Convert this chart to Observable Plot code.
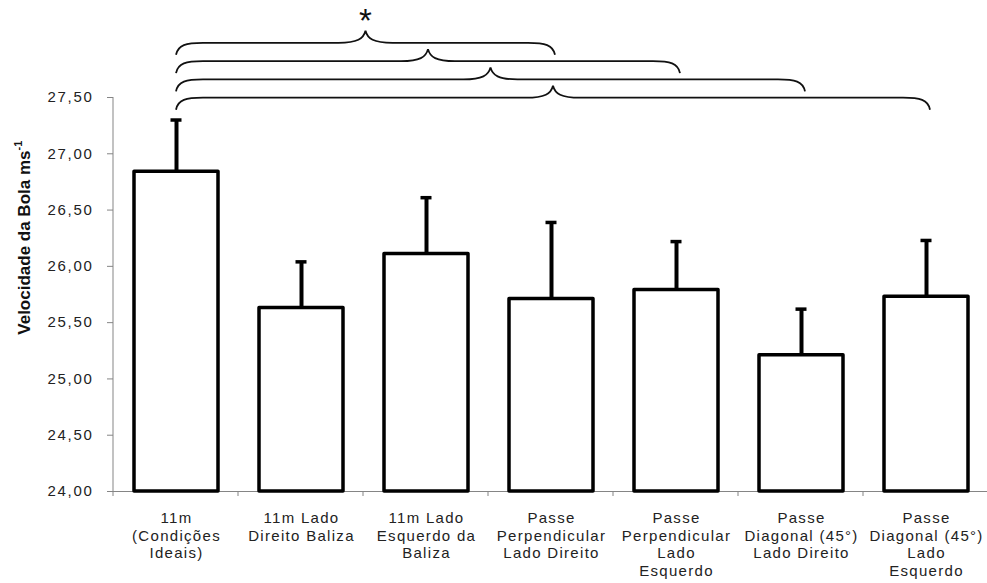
<!DOCTYPE html>
<html><head><meta charset="utf-8">
<script src="https://cdn.jsdelivr.net/npm/d3@7"></script>
<script src="https://cdn.jsdelivr.net/npm/@observablehq/plot@0.6"></script>
<style>
body{margin:0;background:#fff;}
svg{display:block;}
g[aria-label="y-axis tick label"] text{letter-spacing:1.7px;}
g[aria-label="x-axis tick label"] text{letter-spacing:1.3px;}
</style>
</head><body><div id="chart"></div>
<script>
// ---- data ----
const categories = [
  "11m\n(Condições\nIdeais)",
  "11m Lado\nDireito Baliza",
  "11m Lado\nEsquerdo da\nBaliza",
  "Passe\nPerpendicular\nLado Direito",
  "Passe\nPerpendicular\nLado\nEsquerdo",
  "Passe\nDiagonal (45°)\nLado Direito",
  "Passe\nDiagonal (45°)\nLado\nEsquerdo"
];
const means = [26.84, 25.63, 26.11, 25.71, 25.79, 25.21, 25.73];
const sds   = [0.46, 0.41, 0.50, 0.68, 0.43, 0.41, 0.50];
const yTicks = [24, 24.5, 25, 25.5, 26, 26.5, 27, 27.5];
const comparisons = [[0, 3], [0, 4], [0, 5], [0, 6]]; // significant pairs (category indices)
const significanceMark = "*";
const yLabelMain = "Velocidade da Bola ms";
const yLabelSup = "-1";

const data = categories.map((c, i) => ({cat: c, mean: means[i], top: means[i] + sds[i]}));
const fmt = d => d3.format(".2f")(d).replace(".", ",");
const axisGray = "#858585";

function annotations(index, scales, values, dims) {
  const x = scales.x, y = scales.y;
  const bw = typeof x.bandwidth === "function" ? x.bandwidth() : (x.bandwidth || 0);
  const step = typeof x.step === "function" ? x.step() : bw;
  const cx = i => x(categories[i]) + bw / 2;
  const ns = "http://www.w3.org/2000/svg";
  const g = document.createElementNS(ns, "g");
  const y0 = y(24), yT = y(27.5);
  const left = dims.marginLeft;
  // y-axis line and x-axis ticks
  const p = d3.path();
  p.moveTo(left, yT); p.lineTo(left, y0 + 5);
  for (let i = 1; i <= categories.length; i++) {
    const bx = left + i * step;
    p.moveTo(bx, y0); p.lineTo(bx, y0 + 5);
  }
  const axisPath = document.createElementNS(ns, "path");
  axisPath.setAttribute("d", p.toString());
  axisPath.setAttribute("stroke", axisGray);
  axisPath.setAttribute("fill", "none");
  g.appendChild(axisPath);
  // braces
  const h = 12, r = 27, gap = 18.3;
  comparisons.forEach(([a, b], k) => {
    const yl = yT + 0.7 - (comparisons.length - 1 - k) * gap;
    const x0 = cx(a), x1 = cx(b) + 4, xm = (x0 + x1) / 2;
    const q = d3.path();
    q.moveTo(x0, yl + h);
    q.bezierCurveTo(x0 + 2, yl + 2, x0 + 10, yl, x0 + r, yl);
    q.lineTo(xm - r, yl);
    q.bezierCurveTo(xm - 8, yl, xm - 2, yl - 4, xm, yl - h);
    q.bezierCurveTo(xm + 2, yl - 4, xm + 8, yl, xm + r, yl);
    q.lineTo(x1 - r, yl);
    q.bezierCurveTo(x1 - 10, yl, x1 - 2, yl + 2, x1, yl + h);
    const path = document.createElementNS(ns, "path");
    path.setAttribute("d", q.toString());
    path.setAttribute("fill", "none");
    path.setAttribute("stroke", "#111");
    path.setAttribute("stroke-width", "1.8");
    g.appendChild(path);
    if (k === 0) {
      const t = document.createElementNS(ns, "text");
      t.setAttribute("x", xm);
      t.setAttribute("y", yl - h + 1.5);
      t.setAttribute("text-anchor", "middle");
      t.setAttribute("font-family", "Liberation Sans, Arial, sans-serif");
      t.setAttribute("font-size", "33");
      t.setAttribute("fill", "#111");
      t.textContent = significanceMark;
      g.appendChild(t);
    }
  });
  // y label
  const lab = document.createElementNS(ns, "text");
  lab.setAttribute("transform", `translate(30,${(y(26.25))}) rotate(-90)`);
  lab.setAttribute("text-anchor", "middle");
  lab.setAttribute("font-family", "Liberation Sans, Arial, sans-serif");
  lab.setAttribute("font-weight", "bold");
  lab.setAttribute("font-size", "17");
  lab.setAttribute("fill", "#111");
  const t1 = document.createElementNS(ns, "tspan");
  t1.textContent = yLabelMain;
  const t2 = document.createElementNS(ns, "tspan");
  t2.setAttribute("dy", "-8");
  t2.setAttribute("font-size", "11");
  t2.textContent = yLabelSup;
  lab.appendChild(t1); lab.appendChild(t2);
  g.appendChild(lab);
  return g;
}

const chart = Plot.plot({
  width: 987,
  height: 583,
  marginLeft: 113,
  marginRight: -3,
  marginTop: 97,
  marginBottom: 92,
  style: {fontFamily: "Liberation Sans, Arial, sans-serif", background: "#fff", color: "#222"},
  x: {domain: categories, paddingInner: 0.325, paddingOuter: 0.1625, label: null},
  y: {domain: [24, 27.5], label: null},
  marks: [
    Plot.axisY({ticks: yTicks, tickFormat: fmt, tickSize: 6, tickPadding: 14, fontSize: 15, stroke: axisGray, label: null}),
    Plot.axisX({tickSize: 0, tickPadding: 19, fontSize: 15, lineHeight: 1.18, label: null}),
    Plot.ruleY([24], {stroke: axisGray}),
    Plot.ruleX(data, {x: "cat", y1: "mean", y2: "top", stroke: "#000", strokeWidth: 4}),
    Plot.tickY(data, {x: "cat", y: "top", stroke: "#000", strokeWidth: 3.5, insetLeft: 36.5, insetRight: 36.5}),
    Plot.barY(data, {x: "cat", y1: 24, y2: "mean", fill: "#fff", stroke: "#000", strokeWidth: 3.5, strokeLinejoin: "round"}),
    annotations
  ]
});
document.getElementById("chart").appendChild(chart);
</script>
</body></html>
